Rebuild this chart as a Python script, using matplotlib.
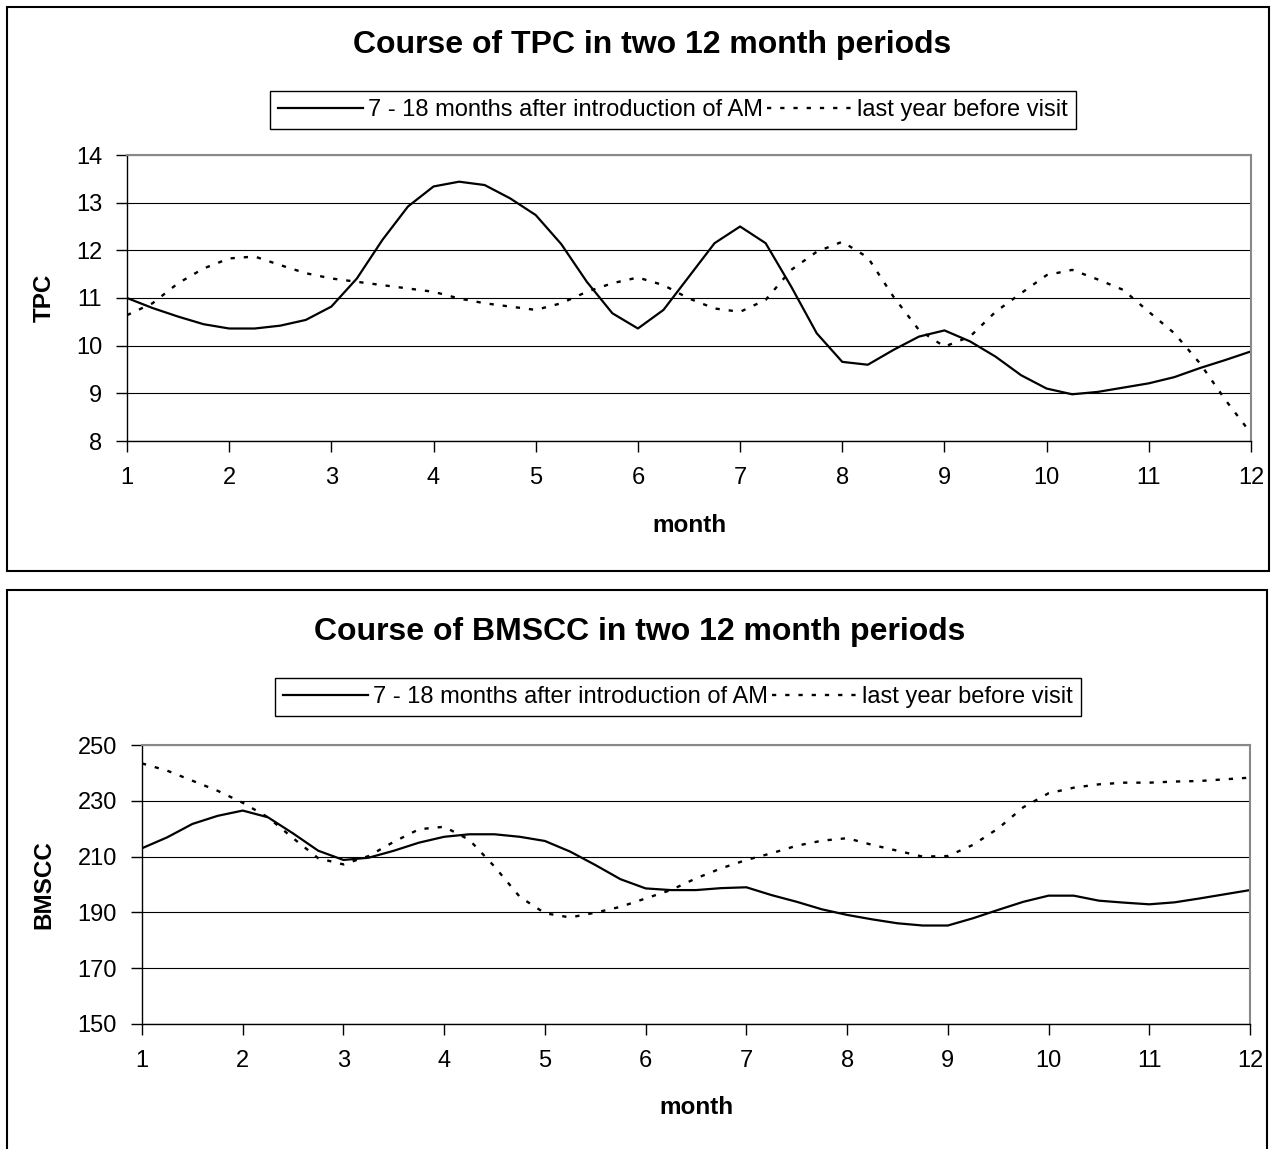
import matplotlib.pyplot as plt
from matplotlib.patches import Rectangle

plt.rcParams['font.family'] = ['Liberation Sans', 'DejaVu Sans']

# month positions (quarter-month steps)
months = [1 + 0.25 * i for i in range(45)]

tpc_after = [11.00, 10.79, 10.61, 10.45, 10.36, 10.36, 10.42, 10.54, 10.82,
             11.41, 12.22, 12.92, 13.34, 13.44, 13.37, 13.09, 12.74, 12.13,
             11.34, 10.68, 10.36, 10.75, 11.45, 12.15, 12.50, 12.15, 11.24,
             10.26, 9.66, 9.60, 9.91, 10.19, 10.32, 10.09, 9.77, 9.38,
             9.10, 8.98, 9.03, 9.12, 9.21, 9.34, 9.53, 9.70, 9.88]
tpc_before = [10.64, 10.89, 11.31, 11.62, 11.83, 11.87, 11.69, 11.52, 11.41,
              11.34, 11.27, 11.20, 11.13, 10.99, 10.89, 10.82, 10.75, 10.89,
              11.13, 11.31, 11.43, 11.27, 10.99, 10.78, 10.71, 10.96, 11.59,
              11.97, 12.18, 11.85, 11.03, 10.33, 9.98, 10.19, 10.71, 11.10,
              11.48, 11.59, 11.39, 11.17, 10.71, 10.26, 9.63, 8.86, 8.16]

bmscc_after = [213.0, 216.9, 221.7, 224.6, 226.5, 224.1, 218.3, 212.1, 208.8,
               209.6, 212.1, 215.0, 217.1, 218.0, 218.0, 217.1, 215.6, 211.8,
               207.0, 201.9, 198.6, 198.0, 198.0, 198.7, 199.0, 196.2, 193.8,
               191.1, 189.1, 187.5, 186.1, 185.3, 185.3, 187.9, 190.9, 193.8,
               196.0, 196.0, 194.2, 193.5, 192.9, 193.6, 195.0, 196.5, 198.0]
bmscc_before = [243.4, 240.8, 237.2, 233.6, 229.3, 224.1, 216.6, 209.4, 207.2,
                210.2, 215.3, 219.8, 220.7, 216.0, 206.4, 195.6, 189.7, 188.2,
                189.9, 192.0, 195.0, 198.0, 202.2, 205.8, 208.8, 211.2, 213.9,
                215.7, 216.6, 214.2, 212.1, 210.0, 210.2, 214.2, 220.1, 227.7,
                232.7, 234.7, 235.9, 236.5, 236.5, 236.9, 237.1, 237.7, 238.3]

month_ticks = list(range(1, 13))
tpc_ticks = [8, 9, 10, 11, 12, 13, 14]
bmscc_ticks = [150, 170, 190, 210, 230, 250]

label_after = '7 - 18 months after introduction of AM'
label_before = 'last year before visit'

W, H = 1276, 1149
fig = plt.figure(figsize=(W / 100, H / 100), dpi=100)
fig.patch.set_facecolor('white')


def fx(px):
    return px / W


def fy(py):
    return 1 - py / H


# outer frames of the two charts
fig.patches.append(Rectangle((fx(7), fy(571)), fx(1269) - fx(7), fy(7) - fy(571),
                             transform=fig.transFigure, fill=False,
                             edgecolor='black', linewidth=1.5))
fig.patches.append(Rectangle((fx(7), fy(1160)), fx(1267) - fx(7), fy(590) - fy(1160),
                             transform=fig.transFigure, fill=False,
                             edgecolor='black', linewidth=1.5))


def make_panel(box, after, before, yticks, title, ylabel, title_xy, legend_xy,
               ylabel_x, xlabel_y):
    left, top, right, bottom = box
    ax = fig.add_axes([fx(left), fy(bottom), fx(right) - fx(left), fy(top) - fy(bottom)])
    l1, = ax.plot(months, after, color='black', linewidth=1.6, label=label_after)
    l2, = ax.plot(months, before, color='black', linewidth=1.7,
                  linestyle=(0, (1.8, 3.8)), label=label_before)
    ax.set_xlim(1, 12)
    ax.set_ylim(yticks[0], yticks[-1])
    ax.set_xticks(month_ticks)
    ax.set_yticks(yticks)
    ax.grid(axis='y', color='black', linewidth=0.8)
    ax.set_axisbelow(True)
    for side in ['top', 'right']:
        ax.spines[side].set_color('#888888')
        ax.spines[side].set_linewidth(1.5)
    for side in ['left', 'bottom']:
        ax.spines[side].set_color('black')
        ax.spines[side].set_linewidth(1.0)
    ax.tick_params(axis='both', direction='out', length=8, width=1,
                   labelsize=17, colors='black')
    ax.tick_params(axis='x', pad=11)
    ax.tick_params(axis='y', pad=10)

    fig.text(fx(title_xy[0]), fy(title_xy[1]), title, ha='center', va='center',
             fontsize=23, fontweight='bold')
    fig.text(fx(ylabel_x), fy((top + bottom) / 2), ylabel, ha='center', va='center',
             rotation=90, fontsize=17.5, fontweight='bold')
    fig.text(fx((left + right) / 2), fy(xlabel_y), 'month', ha='center', va='center',
             fontsize=17.5, fontweight='bold')

    leg = fig.legend(handles=[l1, l2], loc='center',
                     bbox_to_anchor=(fx(legend_xy[0]), fy(legend_xy[1])),
                     ncol=2, fontsize=17, frameon=True, fancybox=False,
                     framealpha=1, edgecolor='black', handlelength=3.6,
                     handletextpad=0.2, columnspacing=0.2, borderpad=0.35,
                     borderaxespad=0)
    leg.get_frame().set_linewidth(1.0)
    return ax


make_panel((127, 155, 1251, 441), tpc_after, tpc_before, tpc_ticks,
           'Course of TPC in two 12 month periods', 'TPC', (652, 45), (673, 110), 44, 525)
make_panel((142, 745, 1250, 1024), bmscc_after, bmscc_before, bmscc_ticks,
           'Course of BMSCC in two 12 month periods', 'BMSCC', (640, 632), (678, 697), 44, 1108)

fig.savefig('out.png', dpi=100)
